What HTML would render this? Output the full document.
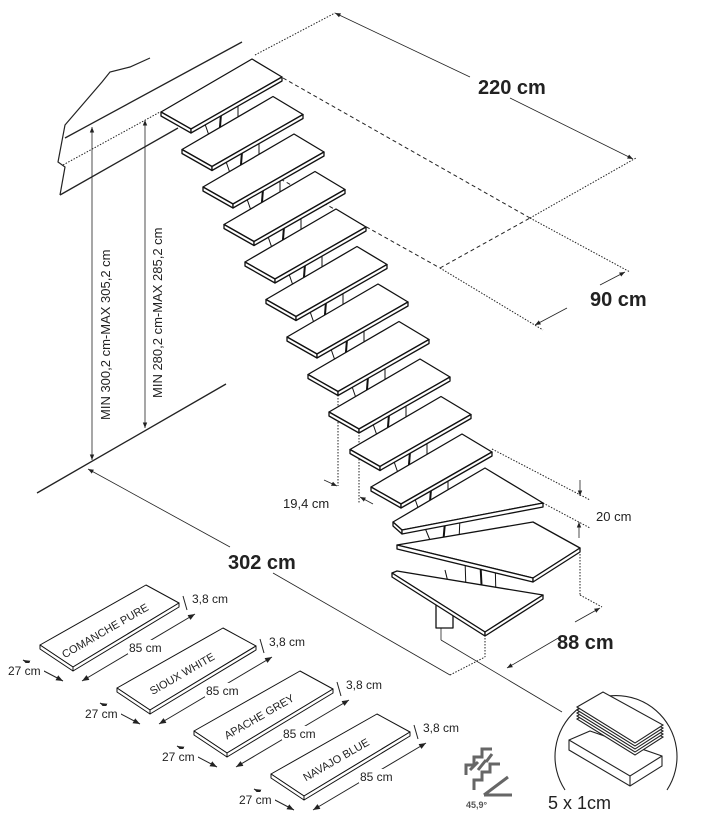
<!DOCTYPE html>
<html><head><meta charset="utf-8"><style>
html,body{margin:0;padding:0;background:#fff;}
svg{display:block;font-family:"Liberation Sans",sans-serif;}
</style></head><body>
<svg id="s" width="703" height="823" viewBox="0 0 703 823" xmlns="http://www.w3.org/2000/svg">
<defs>
<marker id="a" viewBox="0 0 10 10" refX="10" refY="5" markerWidth="7" markerHeight="7" orient="auto-start-reverse"><path d="M0,1 L10,5 L0,9 z" fill="#222"/></marker>
</defs>
<g fill="none" stroke="#222" stroke-width="1">
<polyline points="150,58 130,67 110,72 102,82 65,125 58,162 65,167 60,195" stroke-width="1.2"/>
<line x1="65" y1="138" x2="242" y2="42" stroke-width="1.3"/>
<line x1="63" y1="165" x2="160" y2="112" stroke-dasharray="1.5,1.5"/>
<line x1="60" y1="195" x2="178" y2="128" stroke-width="1.3"/>
<line x1="255" y1="55" x2="335" y2="13" stroke-dasharray="1.5,1.5"/>
<line x1="335" y1="13" x2="470" y2="77" stroke-width="0.8" marker-start="url(#a)"/>
<line x1="510" y1="98" x2="633" y2="159" stroke-width="0.8" marker-end="url(#a)"/>
<line x1="283" y1="78" x2="530" y2="218" stroke-dasharray="4,3"/>
<line x1="530" y1="218" x2="630" y2="272" stroke-dasharray="1.5,1.5"/>
<line x1="530" y1="218" x2="636" y2="158" stroke-dasharray="1.5,1.5"/>
<line x1="440" y1="268" x2="530" y2="218" stroke-dasharray="4,3"/>
<line x1="250" y1="162" x2="440" y2="268" stroke-dasharray="4,3"/>
<line x1="440" y1="268" x2="543" y2="330" stroke-dasharray="1.5,1.5"/>
<line x1="600" y1="285" x2="625" y2="272" stroke-width="0.8" marker-end="url(#a)"/>
<line x1="567" y1="308" x2="535" y2="325" stroke-width="0.8" marker-end="url(#a)"/>
<line x1="92" y1="127" x2="92" y2="460" stroke-width="0.8" marker-start="url(#a)" marker-end="url(#a)"/>
<line x1="145" y1="120" x2="145" y2="428" stroke-width="0.8" marker-start="url(#a)" marker-end="url(#a)"/>
<line x1="37" y1="493" x2="226" y2="384" stroke-width="1.3"/>
<line x1="88" y1="469" x2="230" y2="547" stroke-width="0.8" marker-start="url(#a)"/>
<line x1="273" y1="573" x2="450" y2="675" stroke-width="0.8"/>
<line x1="450" y1="675" x2="485" y2="657" stroke-dasharray="1.5,1.5"/>
<line x1="485" y1="632" x2="485" y2="657" stroke-dasharray="1.5,1.5"/>
<line x1="507" y1="668" x2="560" y2="637" stroke-width="0.8" marker-start="url(#a)"/>
<line x1="600" y1="608" x2="575" y2="622" stroke-width="0.8" marker-start="url(#a)"/>
<line x1="580" y1="548" x2="580" y2="595" stroke-dasharray="1.5,1.5"/>
<line x1="580" y1="595" x2="602" y2="607" stroke-dasharray="1.5,1.5"/>
<line x1="492" y1="449" x2="590" y2="500" stroke-dasharray="1.5,1.5"/>
<line x1="543" y1="503" x2="590" y2="528" stroke-dasharray="1.5,1.5"/>
<line x1="580" y1="480" x2="580" y2="496" stroke-width="0.8" marker-end="url(#a)"/>
<line x1="579" y1="538" x2="579" y2="522" stroke-width="0.8" marker-end="url(#a)"/>
<line x1="338" y1="395" x2="338" y2="486" stroke-dasharray="1.5,1.5"/>
<line x1="359" y1="432" x2="359" y2="503" stroke-dasharray="1.5,1.5"/>
<line x1="324" y1="480" x2="337" y2="486" stroke-width="0.8" marker-end="url(#a)"/>
<line x1="373" y1="504" x2="360" y2="497" stroke-width="0.8" marker-end="url(#a)"/>
<line x1="441" y1="622" x2="441" y2="640" stroke-width="0.8"/>
<line x1="441" y1="640" x2="562" y2="712" stroke-width="0.8"/>
</g>
<g id="steps" fill="#fff" stroke="#111" stroke-width="1.3" stroke-linejoin="round"></g>
<g fill="#fff" stroke="#111" stroke-width="1.3" stroke-linejoin="round">
<path d="M436,605 L453,605 L453,628 L436,628 Z"/>
<g stroke-width="1" fill="none">
<line x1="425" y1="528" x2="432" y2="545"/><line x1="445" y1="522" x2="443" y2="545" stroke-width="2"/><line x1="460" y1="518" x2="459" y2="540"/>
<line x1="445" y1="570" x2="450" y2="590"/><line x1="465" y1="560" x2="466" y2="590"/><line x1="480" y1="555" x2="482" y2="595" stroke-width="2"/><line x1="495" y1="558" x2="496" y2="598"/>
<line x1="440" y1="598" x2="440" y2="606"/><line x1="453" y1="600" x2="453" y2="606"/>
</g>
<polygon points="393,522 485,468 543,503 402,530" /><polygon points="393,522 402,530 402,534 393,526"/><polygon points="402,530 543,503 543,507 402,534"/>
<polygon points="397,545 533,522 580,548 533,578"/><polygon points="397,545 533,578 533,582 397,549"/><polygon points="533,578 580,548 580,552 533,582"/>
<line x1="445" y1="590" x2="455" y2="605" stroke-width="1"/>
<polygon points="392,573 397,571 543,595 485,632"/><polygon points="392,573 485,632 485,636 392,577"/><polygon points="485,632 543,595 543,599 485,636"/>
<g id="cards"></g>
</g>
<g fill="none" stroke="#222" stroke-width="1.1">
<path d="M565,790 A61,61 0 1 1 667,790"/>
<polygon points="569,740 590,731 662,756 662,766 630,786 569,750" fill="#fff"/>
<polyline points="569,740 630,776 662,756"/><line x1="630" y1="776" x2="630" y2="786"/>
<g fill="#fff">
<polygon points="577,719 603,704 663,737 635,755"/>
<polygon points="577,716 603,701 663,734 635,752"/>
<polygon points="577,713 603,698 663,731 635,749"/>
<polygon points="577,710 603,695 663,728 635,746"/>
<polygon points="577,707 603,692 663,725 635,743"/>
</g>
</g>
<g fill="none" stroke="#666" stroke-width="3">
<polyline points="466,775 466,765 474,765 474,757 482,757 482,749 492,749"/>
<polyline points="474,790 474,780 482,780 482,772 490,772 490,764 500,764"/>
<line x1="470" y1="770" x2="478" y2="762"/><line x1="478" y1="770" x2="486" y2="760"/><line x1="486" y1="762" x2="492" y2="754"/>
<polyline points="484,795 508,777" /><line x1="484" y1="795" x2="512" y2="795"/>
</g>
<g fill="#222" font-size="20" font-weight="bold">
<text x="478" y="94">220 cm</text>
<text x="590" y="306">90 cm</text>
<text x="228" y="569">302 cm</text>
<text x="557" y="649">88 cm</text>
</g>
<g fill="#222" font-size="13">
<text x="596" y="521">20 cm</text>
<text x="283" y="508">19,4 cm</text>
<text transform="translate(110,420) rotate(-90)">MIN 300,2 cm-MAX 305,2 cm</text>
<text transform="translate(162,398) rotate(-90)">MIN 280,2 cm-MAX 285,2 cm</text>
</g>
<text x="548" y="809" font-size="18" fill="#222">5 x 1cm</text>
<text x="466" y="808" font-size="9" font-weight="bold" fill="#555">45,9°</text>
<script>
var ns="http://www.w3.org/2000/svg";
function el(p,t,a,txt){var e=document.createElementNS(ns,t);for(var k in a)e.setAttribute(k,a[k]);if(txt)e.textContent=txt;p.appendChild(e);return e;}
var g=document.getElementById("steps");
for(var i=0;i<=10;i++){
 var dx=21*i,dy=37.5*i;
 function P(x,y){return (x+dx)+","+(y+dy);}
 el(g,"line",{x1:205+dx,y1:124+dy,x2:214+dx,y2:150+dy,"stroke-width":"1"});
 el(g,"line",{x1:221+dx,y1:114+dy,x2:219+dx,y2:140+dy,"stroke-width":"2"});
 el(g,"line",{x1:238+dx,y1:104+dy,x2:238+dx,y2:130+dy,"stroke-width":"1"});
 el(g,"polygon",{points:P(161,112)+" "+P(252,59)+" "+P(282,77)+" "+P(191,129)});
 el(g,"polygon",{points:P(161,112)+" "+P(191,129)+" "+P(191,133)+" "+P(161,116)});
 el(g,"polygon",{points:P(191,129)+" "+P(282,77)+" "+P(282,81)+" "+P(191,133)});
}
var c=document.getElementById("cards");
var names=["COMANCHE PURE","SIOUX WHITE","APACHE GREY","NAVAJO BLUE"];
for(var j=0;j<4;j++){
 var ox=77*j,oy=43*j;
 function Q(x,y){return (x+ox)+","+(y+oy);}
 el(c,"polygon",{points:Q(40,645)+" "+Q(146,585)+" "+Q(179,603)+" "+Q(73,667),"stroke-width":"1"});
 el(c,"polygon",{points:Q(40,645)+" "+Q(73,667)+" "+Q(73,671)+" "+Q(40,649),"stroke-width":"1"});
 el(c,"polygon",{points:Q(73,667)+" "+Q(179,603)+" "+Q(179,607)+" "+Q(73,671),"stroke-width":"1"});
 el(c,"text",{transform:"translate("+(107+ox)+","+(634+oy)+") rotate(-30)","text-anchor":"middle","font-size":"11",fill:"#222",stroke:"none"},names[j]);
 el(c,"line",{x1:82+ox,y1:681+oy,x2:195+ox,y2:614+oy,"stroke-width":"1",stroke:"#222","marker-start":"url(#a)","marker-end":"url(#a)"});
 el(c,"rect",{x:128+ox,y:640+oy,width:38,height:14,fill:"#fff",stroke:"none"});
 el(c,"text",{x:129+ox,y:652+oy,"font-size":"12",fill:"#222",stroke:"none"},"85 cm");
 el(c,"line",{x1:23+ox,y1:660+oy,x2:63+ox,y2:681+oy,"stroke-width":"1",stroke:"#222","marker-start":"url(#a)","marker-end":"url(#a)"});
 el(c,"rect",{x:8+ox,y:663+oy,width:36,height:13,fill:"#fff",stroke:"none"});
 el(c,"text",{x:8+ox,y:675+oy,"font-size":"12",fill:"#222",stroke:"none"},"27 cm");
 el(c,"line",{x1:183+ox,y1:596+oy,x2:187+ox,y2:610+oy,"stroke-width":"1",stroke:"#222"});
 el(c,"text",{x:192+ox,y:603+oy,"font-size":"12",fill:"#222",stroke:"none"},"3,8 cm");
}
</script>
</svg>
</body></html>
